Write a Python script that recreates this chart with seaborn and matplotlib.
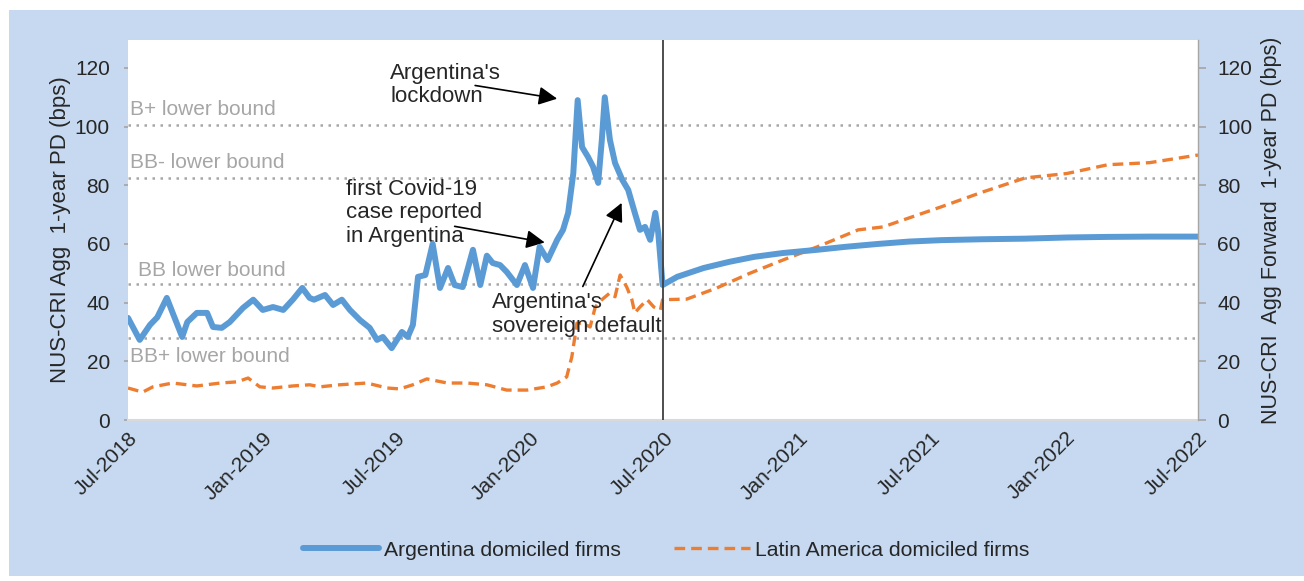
import pandas as pd
import numpy as np
import matplotlib.pyplot as plt
import matplotlib.dates as mdates
from matplotlib.patches import Rectangle
import seaborn as sns

# values (bps)
arg_dates = ["2018-07-01", "2018-07-17", "2018-07-31", "2018-08-10", "2018-08-23", "2018-08-31",
             "2018-09-13", "2018-09-20", "2018-10-03", "2018-10-17", "2018-10-25", "2018-11-06",
             "2018-11-17", "2018-12-05", "2018-12-19", "2019-01-01", "2019-01-15", "2019-01-29",
             "2019-02-11", "2019-02-24", "2019-03-06", "2019-03-12", "2019-03-27", "2019-04-07",
             "2019-04-19", "2019-04-30", "2019-05-14", "2019-05-27", "2019-06-06", "2019-06-14",
             "2019-06-26", "2019-07-10", "2019-07-18", "2019-07-25", "2019-08-01", "2019-08-11",
             "2019-08-21", "2019-08-31", "2019-09-11", "2019-09-20", "2019-10-01", "2019-10-15",
             "2019-10-25", "2019-11-03", "2019-11-11", "2019-11-21", "2019-11-30", "2019-12-14",
             "2019-12-25", "2020-01-05", "2020-01-14", "2020-01-25", "2020-02-07", "2020-02-15",
             "2020-02-22", "2020-02-29", "2020-03-06", "2020-03-12", "2020-03-20", "2020-03-27",
             "2020-04-03", "2020-04-08", "2020-04-12", "2020-04-19", "2020-04-26", "2020-05-06",
             "2020-05-14", "2020-05-23", "2020-05-30", "2020-06-06", "2020-06-13", "2020-06-20",
             "2020-06-24", "2020-06-30",
             "2020-07-20", "2020-08-25", "2020-09-29", "2020-11-02", "2020-12-11", "2021-01-27",
             "2021-03-06", "2021-04-20", "2021-06-01", "2021-07-16", "2021-09-10", "2021-11-07",
             "2022-01-03", "2022-02-28", "2022-04-26", "2022-07-01"]
arg_pd = [34.8, 27.3, 32.4, 35.0, 41.6, 36.5,
          28.3, 33.4, 36.5, 36.5, 31.7, 31.4,
          33.4, 38.2, 41.0, 37.5, 38.5, 37.5,
          41.0, 45.0, 41.6, 41.0, 42.6, 39.2,
          41.0, 37.5, 34.0, 31.4, 27.3, 28.3,
          24.5, 30.0, 28.3, 32.4, 48.8, 49.4,
          60.0, 45.0, 51.8, 46.0, 45.3, 58.0,
          46.0, 56.0, 53.5, 52.8, 50.5, 46.0,
          52.8, 45.0, 59.0, 54.5, 61.4, 64.8,
          70.6, 84.0, 109.0, 93.0, 89.7, 86.3,
          80.8, 95.5, 110.0, 95.5, 87.6, 81.8,
          78.4, 70.6, 64.8, 65.8, 61.4, 70.6,
          63.8, 46.0,
          48.8, 51.8, 53.9, 55.6, 56.9, 58.0,
          59.0, 60.0, 60.8, 61.3, 61.6, 61.8,
          62.2, 62.4, 62.5, 62.5]

latam_dates = ["2018-07-01", "2018-07-21", "2018-08-04", "2018-08-31", "2018-10-03", "2018-11-04",
               "2018-11-27", "2018-12-12", "2018-12-28", "2019-01-15", "2019-02-11", "2019-03-06",
               "2019-03-20", "2019-04-16", "2019-05-23", "2019-06-20", "2019-07-07", "2019-07-25",
               "2019-08-13", "2019-09-10", "2019-10-07", "2019-11-03", "2019-11-30", "2019-12-28",
               "2020-01-24", "2020-02-07", "2020-02-20", "2020-02-27", "2020-03-05", "2020-03-13",
               "2020-03-23", "2020-03-30", "2020-04-08", "2020-04-19", "2020-04-26", "2020-05-03",
               "2020-05-12", "2020-05-19", "2020-05-23", "2020-05-30", "2020-06-09", "2020-06-18",
               "2020-06-27", "2020-06-30",
               "2020-08-02", "2020-09-12", "2020-10-27", "2020-12-11", "2021-01-27", "2021-03-24",
               "2021-04-27", "2021-07-16", "2021-09-10", "2021-11-07", "2022-01-03", "2022-02-28",
               "2022-04-26", "2022-07-01"]
latam_pd = [10.9, 9.5, 11.3, 12.6, 11.6, 12.6,
            13.0, 14.3, 11.3, 10.9, 11.6, 12.0,
            11.3, 12.0, 12.6, 10.9, 10.6, 12.0,
            14.0, 12.6, 12.6, 12.0, 10.2, 10.2,
            11.3, 12.6, 14.7, 21.5, 33.0, 33.0,
            31.7, 38.5, 41.0, 43.3, 42.0, 49.4,
            45.3, 41.0, 36.5, 38.5, 41.0, 38.5,
            37.5, 41.0,
            41.2, 45.0, 50.0, 54.5, 59.0, 64.8,
            65.8, 72.7, 77.7, 82.5, 84.0, 87.0,
            87.7, 90.3]

bound_names = ["B+ lower bound", "BB- lower bound", "BB lower bound", "BB+ lower bound"]
bound_values = [100.5, 82.5, 46.4, 28.0]

series_labels = ["Argentina domiciled firms", "Latin America domiciled firms"]
tick_dates = ["2018-07-01", "2019-01-01", "2019-07-01", "2020-01-01", "2020-07-01",
              "2021-01-01", "2021-07-01", "2022-01-01", "2022-07-01"]

df_arg = pd.DataFrame({"date": pd.to_datetime(arg_dates), "pd": arg_pd})
df_lat = pd.DataFrame({"date": pd.to_datetime(latam_dates), "pd": latam_pd})

sns.set_theme(style="white")
plt.rcParams["font.family"] = ["Liberation Sans", "DejaVu Sans"]

BG = "#c6d9f0"
BLUE = "#5b9bd5"
ORANGE = "#ed7d31"
GREY = "#a6a6a6"
TXT = "#262626"
ANN = 16

fig = plt.figure(figsize=(13.04, 5.81), dpi=100, facecolor="white")
fig.patches.append(Rectangle((9 / 1304, 5 / 581), 1 - 9 / 1304, 1 - 15 / 581,
                             transform=fig.transFigure, facecolor=BG, edgecolor="none", zorder=-10))

ax = fig.add_axes([128 / 1304, 1 - 420 / 581, 1070 / 1304, 380 / 581])
ax.set_facecolor("white")

for name, val in zip(bound_names, bound_values):
    ax.axhline(val, color=GREY, ls=(0, (1, 2.2)), lw=1.8, zorder=1)

sns.lineplot(data=df_lat, x="date", y="pd", ax=ax, color=ORANGE, lw=2.4,
             linestyle=(0, (3.2, 1.8)), label=series_labels[1], zorder=3)
sns.lineplot(data=df_arg, x="date", y="pd", ax=ax, color=BLUE, lw=4.3,
             label=series_labels[0], zorder=4)

ax.axvline(pd.Timestamp("2020-07-01"), color="#404040", lw=1.3, zorder=5)

x0, x1 = pd.Timestamp("2018-07-01"), pd.Timestamp("2022-07-01")
ax.set_xlim(x0, x1)
ax.set_ylim(0, 129.5)
ax.set_yticks([0, 20, 40, 60, 80, 100, 120])
ax.set_xticks(pd.to_datetime(tick_dates))
ax.xaxis.set_major_formatter(mdates.DateFormatter("%b-%Y"))
plt.setp(ax.get_xticklabels(), rotation=45, ha="right", rotation_mode="anchor")
ax.tick_params(axis="x", labelsize=15, colors=TXT, length=0, pad=6)
ax.tick_params(axis="y", labelsize=15, colors=TXT, length=3, color=GREY, pad=10)
ax.set_xlabel("")
ax.set_ylabel("NUS-CRI Agg  1-year PD (bps)", fontsize=16, color=TXT, labelpad=3)
for side in ["top", "left", "right"]:
    ax.spines[side].set_visible(False)
ax.spines["bottom"].set_color("#d9d9d9")
ax.spines["bottom"].set_linewidth(1.5)

# bound labels
label_pos = [(0.002, 102.5), (0.002, 84.5), (0.009, 47.8), (0.002, 21.8)]
for name, (fx, yv) in zip(bound_names, label_pos):
    ax.text(fx, yv, name, transform=ax.get_yaxis_transform(), color=GREY, fontsize=15,
            va="bottom" if yv > 40 else "center", ha="left")

# event annotations
arrow = dict(arrowstyle="-|>", color="black", lw=1.2, mutation_scale=28, shrinkA=0, shrinkB=0)
ax.annotate("", xy=(pd.Timestamp("2020-02-07"), 109.5), xytext=(pd.Timestamp("2019-10-18"), 114.0),
            arrowprops=arrow)
ax.text(pd.Timestamp("2019-06-24"), 114.2, "Argentina's\nlockdown", fontsize=ANN, color=TXT,
        va="center", ha="left", linespacing=1.15)
ax.annotate("", xy=(pd.Timestamp("2020-01-21"), 60.5), xytext=(pd.Timestamp("2019-09-20"), 66.0),
            arrowprops=arrow)
ax.text(pd.Timestamp("2019-04-25"), 70.6, "first Covid-19\ncase reported\nin Argentina", fontsize=ANN,
        color=TXT, va="center", ha="left", linespacing=1.15)
ax.annotate("", xy=(pd.Timestamp("2020-05-05"), 74.0), xytext=(pd.Timestamp("2020-03-13"), 45.5),
            arrowprops=arrow)
ax.text(pd.Timestamp("2019-11-10"), 36.0, "Argentina's\nsovereign default", fontsize=ANN, color=TXT,
        va="center", ha="left", linespacing=1.15)

# right axis, same scale
ax2 = ax.twinx()
ax2.set_ylim(ax.get_ylim())
ax2.set_yticks([0, 20, 40, 60, 80, 100, 120])
ax2.tick_params(axis="y", labelsize=15, colors=TXT, length=6, color=GREY, pad=8)
ax2.set_ylabel("NUS-CRI  Agg Forward  1-year PD (bps)", fontsize=15.5, color=TXT, labelpad=6)
for side in ["top", "left", "bottom"]:
    ax2.spines[side].set_visible(False)
ax2.spines["right"].set_color(GREY)
ax2.spines["right"].set_linewidth(1.0)

handles, labels = ax.get_legend_handles_labels()
ax.get_legend().remove()
order = [labels.index(series_labels[0]), labels.index(series_labels[1])]
leg = fig.legend([handles[i] for i in order], [labels[i] for i in order], loc="center",
                 bbox_to_anchor=(0.511, 0.053), ncol=2, frameon=False, fontsize=15.2,
                 handlelength=3.6, columnspacing=2.5, handletextpad=0.25)
for t in leg.get_texts():
    t.set_color(TXT)

fig.savefig("out.png", dpi=100, facecolor="white")
